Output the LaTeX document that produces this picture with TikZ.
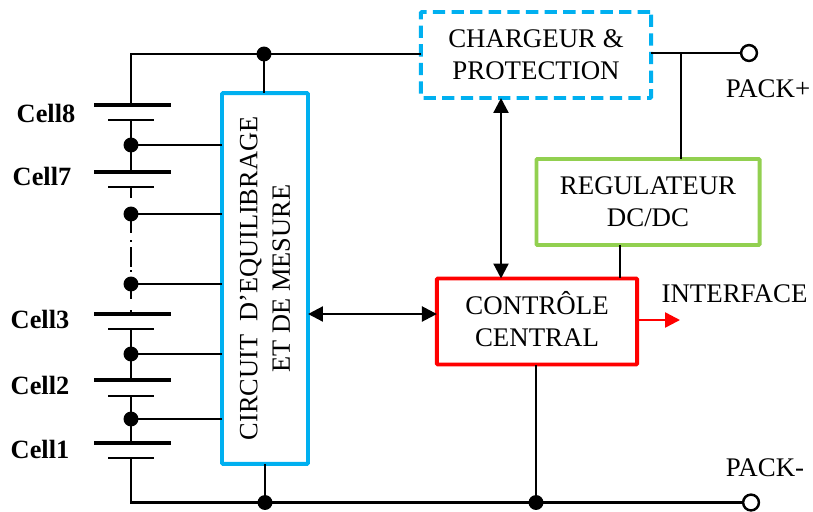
\documentclass[tikz,border=0pt]{standalone}
\usepackage{fontspec}
\setmainfont{Liberation Serif}
\usetikzlibrary{arrows.meta}
\begin{document}
\begin{tikzpicture}[x=0.02cm,y=0.02cm]
\tikzstyle{every node}+=[inner sep=0pt,outer sep=0pt,font=\fontsize{15.3}{18}\selectfont]
\tikzstyle{wire}=[black,line width=1.4pt]
\tikzstyle{link}=[wire,{Triangle[length=8.5pt,width=8.5pt]}-{Triangle[length=8.5pt,width=8.5pt]}]
\tikzstyle{block}=[draw,line width=2.2pt,align=center,rounded corners=0.6pt]
\tikzstyle{dot}=[circle,fill=black,minimum size=8.5pt]
\tikzstyle{port}=[circle,draw=black,fill=white,line width=1.4pt,minimum size=9pt]
\tikzstyle{plateA}=[fill=black,minimum width=44pt,minimum height=2pt]
\tikzstyle{plateB}=[fill=black,minimum width=26pt,minimum height=1.4pt]
\tikzstyle{cell}=[font=\fontsize{15}{18}\selectfont\bfseries]
\definecolor{bleu}{HTML}{00B0F0}
\definecolor{vert}{HTML}{92D050}
\useasboundingbox (0,0) rectangle (813,-511);
\node [block,draw=bleu,rotate=90,minimum width=211pt,minimum height=49pt,font=\fontsize{15}{18.6}\selectfont] (circuit) at (265,-278.5) {CIRCUIT\ \ D’EQUILIBRAGE\\ET DE MESURE};
\node [block,draw=bleu,dash pattern=on 7pt off 3.6pt,minimum width=131pt,minimum height=49pt] (charger) at (536,-55) {CHARGEUR \&\\PROTECTION};
\node [block,draw=vert,minimum width=127pt,minimum height=49pt] (regul) at (648,-202) {REGULATEUR\\DC/DC};
\node [block,draw=red,minimum width=114pt,minimum height=49pt] (control) at (537,-321.5) {\raisebox{0pt}[0.66em][0pt]{CONTRÔLE}\\CENTRAL};
\node [plateA] (c8a) at (132.5,-105) {};
\node [plateB] (c8b) at (131,-120) {};
\node [plateA] (c7a) at (132.5,-172) {};
\node [plateB] (c7b) at (131,-187) {};
\node [plateA] (c3a) at (132.5,-314) {};
\node [plateB] (c3b) at (131,-329) {};
\node [plateA] (c2a) at (132.5,-380) {};
\node [plateB] (c2b) at (131,-396) {};
\node [plateA] (c1a) at (132.5,-443) {};
\node [plateB] (c1b) at (131,-458) {};
\node [cell] (l8) at (46,-113) {Cell8};
\node [cell] (l7) at (42,-176) {Cell7};
\node [cell] (l3) at (40,-319) {Cell3};
\node [cell] (l2) at (40,-385) {Cell2};
\node [cell] (l1) at (40,-449) {Cell1};
\node [dot] (d8) at (131,-145) {};
\node [dot] (d7) at (131,-214) {};
\node [dot] (d4) at (131,-284) {};
\node [dot] (d3) at (131,-354) {};
\node [dot] (d2) at (131,-419) {};
\node [dot] (top) at (264,-54) {};
\node [dot] (low) at (265,-502.5) {};
\node [dot] (lowb) at (536,-502.5) {};
\node [port] (pplus) at (749,-53) {};
\node [port] (pminus) at (751,-502.5) {};
\node (lplus) at (768,-89) {PACK+};
\node (lminus) at (765,-468) {PACK-};
\node (lface) at (734.5,-294) {INTERFACE};
\coordinate (tapA) at (501,-190);
\coordinate (tapB) at (370,-314);
\coordinate (tapC) at (681,-53);
\coordinate (tapD) at (620,-260);
\coordinate (tapE) at (680,-320);
\draw [wire] (c8a.north -| c8b) |- (top);
\draw [wire] (top) -- (charger.west |- top);
\draw [wire] (top) -- (circuit.east -| top);
\draw [wire] (low) -- (circuit.west -| low);
\draw [wire] (c8b) -- (d8);
\draw [wire] (d8) -- (c7a.north -| d8);
\draw [wire] (d8) -- (circuit.north |- d8);
\draw [wire] (d7) -- (circuit.north |- d7);
\draw [wire] (d4) -- (circuit.north |- d4);
\draw [wire] (d3) -- (circuit.north |- d3);
\draw [wire] (d2) -- (circuit.north |- d2);
\draw [wire,dash pattern=on 5.5pt off 15pt] (c7b) -- (d7);
\draw [wire,dash pattern=on 6.8pt off 4pt on 1.1pt off 2.8pt on 11.4pt off 1.6pt on 1.1pt off 5.7pt on 11.4pt] (d7) -- (d4);
\draw [wire,dash pattern=on 4.5pt off 6.2pt on 11.4pt] (d4) -- (c3a.north -| d4);
\draw [wire] (c3b) -- (d3);
\draw [wire] (d3) -- (c2a.north -| d3);
\draw [wire] (c2b) -- (d2);
\draw [wire] (d2) -- (c1a.north -| d2);
\draw [wire] (c1b) |- (low);
\draw [wire] (low) -- (lowb);
\draw [wire] (lowb) -- (pminus);
\draw [wire] (lowb) -- (control.south -| lowb);
\draw [wire] (charger.east |- pplus) -- (pplus);
\draw [wire] (tapC) -- (regul.north -| tapC);
\draw [wire] (regul.south -| tapD) -- (control.north -| tapD);
\draw [link] (charger.south -| tapA) -- (control.north -| tapA);
\draw [link] (circuit.south |- tapB) -- (control.west |- tapB);
\draw [red,line width=1.4pt,-{Triangle[length=8.5pt,width=8.5pt]}] (control.east |- tapE) -- (tapE);
\end{tikzpicture}
\end{document}
